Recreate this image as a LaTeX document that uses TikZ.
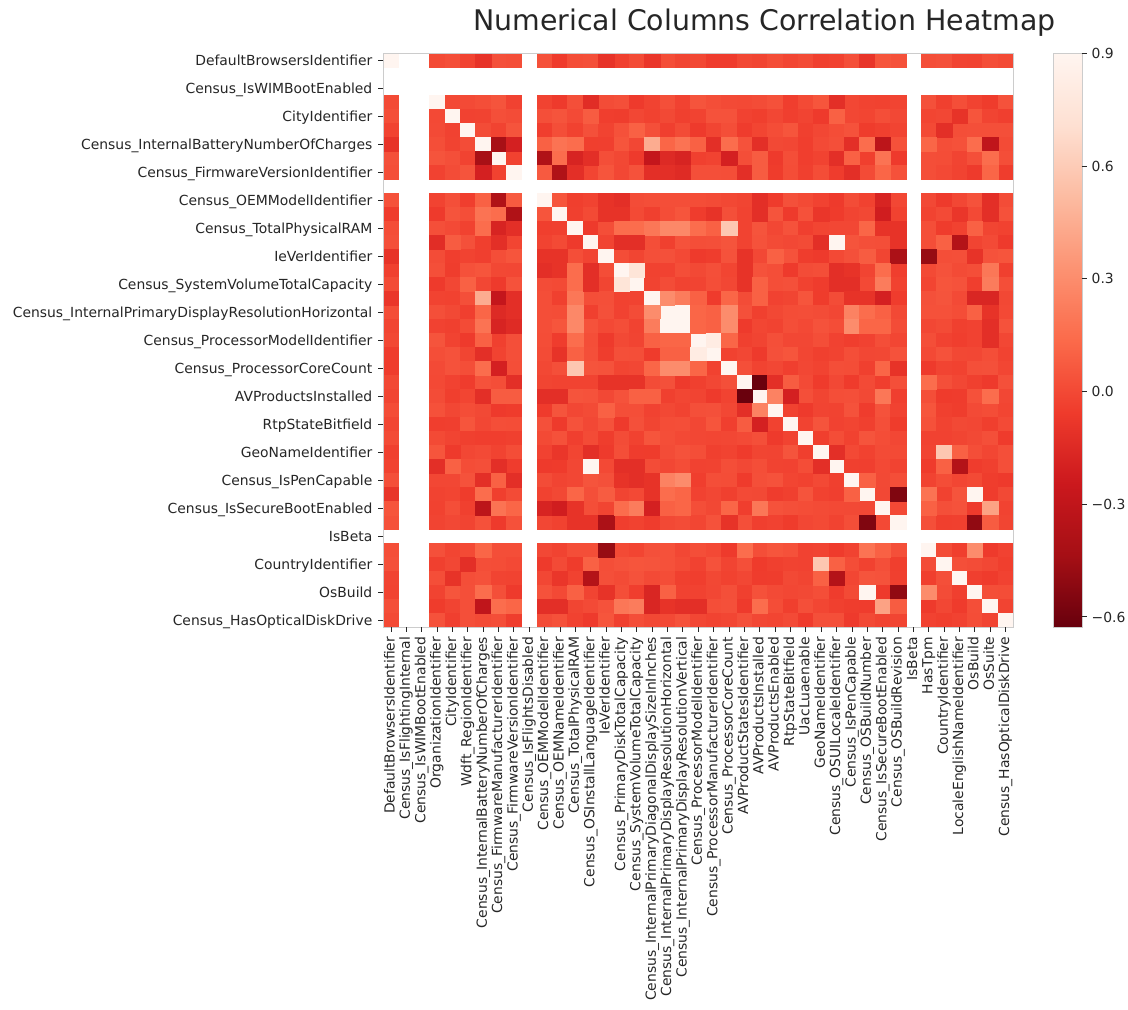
\documentclass[tikz,border=0pt]{standalone}
\usepackage{fontspec}
\setmainfont{DejaVu Sans}
\usepackage{tikz}
\definecolor{CorrRed0}{HTML}{FFF5F0}
\definecolor{CorrRed1}{HTML}{FEE0D2}
\definecolor{CorrRed2}{HTML}{FCBBA1}
\definecolor{CorrRed3}{HTML}{FC9272}
\definecolor{CorrRed4}{HTML}{FB6A4A}
\definecolor{CorrRed5}{HTML}{EF3B2C}
\definecolor{CorrRed6}{HTML}{CB181D}
\definecolor{CorrRed7}{HTML}{A50F15}
\definecolor{CorrRed8}{HTML}{67000D}
\definecolor{CorrText}{HTML}{262626}
\definecolor{CorrFrame}{HTML}{CCCCCC}
\newcommand{\corrfont}{\fontsize{13.9pt}{16pt}\selectfont}
\newcommand{\corrvalid}{1,4,5,6,7,8,9,11,12,13,14,15,16,17,18,19,20,21,22,23,24,25,26,27,28,29,30,31,32,33,34,36,37,38,39,40,41}
\newcommand{\corrfill}[1]{%
  \pgfmathsetmacro{\corrs}{max(0,min(7.999,8*(0.9-(#1))/1.528))}%
  \pgfmathtruncatemacro{\corrk}{\corrs}%
  \pgfmathtruncatemacro{\corrkk}{\corrk+1}%
  \pgfmathsetmacro{\corrp}{100*(1+\corrk-\corrs)}%
  \edef\corrtmp{\noexpand\colorlet{cellcol}{CorrRed\corrk!\corrp!CorrRed\corrkk}}%
  \corrtmp}
\pgfdeclareverticalshading{corrbar}{100bp}{color(0bp)=(CorrRed8); color(25bp)=(CorrRed8); color(31.25bp)=(CorrRed7); color(37.5bp)=(CorrRed6); color(43.75bp)=(CorrRed5); color(50bp)=(CorrRed4); color(56.25bp)=(CorrRed3); color(62.5bp)=(CorrRed2); color(68.75bp)=(CorrRed1); color(75bp)=(CorrRed0); color(100bp)=(CorrRed0)}

\begin{document}
\begin{tikzpicture}[x=1pt,y=-1pt,
  hcell/.style={fill=cellcol,draw=cellcol,line width=0.4pt},
  axtick/.style={draw=CorrText,line width=0.9pt},
  ylab/.style={anchor=base east,inner sep=0pt,text=CorrText,font=\corrfont},
  xlab/.style={anchor=base east,rotate=90,inner sep=0pt,text=CorrText,font=\corrfont},
  cbarlab/.style={anchor=base west,inner sep=0pt,text=CorrText,font=\corrfont},
  heading/.style={anchor=base,inner sep=0pt,text=CorrText,font=\fontsize{28.4pt}{34pt}\selectfont},
]
\fill[white] (0,0) rectangle (1128,1010);
\useasboundingbox (0,0) rectangle (1128,1010);
\node[heading] (title) at (764.5,30) {Numerical Columns Correlation Heatmap};
\begin{scope}[shift={(383.3,53.5)},x=15.366pt,y=-13.99pt]
\foreach \row in \corrvalid {
  \foreach \col in \corrvalid {
    \ifnum\row=\col\relax
      \colorlet{cellcol}{CorrRed0}%
    \else
      \edef\corrh{\the\numexpr 37*\row*\col+91*(\row+\col)\relax}%
      \edef\corrh{\the\numexpr \corrh-101*((\corrh-50)/101)\relax}%
      \edef\corrh{\the\numexpr \corrh*\corrh+17*\corrh\relax}%
      \edef\corrh{\the\numexpr \corrh-101*((\corrh-50)/101)\relax}%
      \pgfmathsetmacro{\corrn}{-0.06+0.0011*\corrh}%
      \corrfill{\corrn}%
    \fi
    \fill[hcell] ({\col-1},{\row-1}) rectangle ({\col},{\row});
  }
}
\foreach \ra/\cb/\val in {1/7/-0.1,1/15/-0.1,1/18/-0.08,1/32/-0.09,1/33/0.05,
  4/14/-0.13,4/29/0.05,4/30/-0.12,5/14/0.08,5/29/-0.06,5/30/0.1,5/38/-0.1,6/17/0.1,6/37/-0.12,
  7/8/-0.42,7/9/-0.2,7/11/0.1,7/12/0.18,7/13/0.15,7/18/0.45,7/19/0.12,7/20/0.18,7/21/0.1,7/22/-0.12,
  7/23/0.15,7/25/-0.12,7/31/-0.12,7/32/0.15,7/33/-0.32,7/36/0.12,7/39/0.15,7/40/-0.3,
  8/11/-0.38,8/12/0.15,8/13/-0.18,8/14/-0.12,8/18/-0.28,8/19/-0.15,8/20/-0.18,8/23/-0.2,8/25/0.08,
  8/30/-0.12,8/31/0.1,8/33/0.18,8/40/0.15,
  9/11/0.07,9/12/-0.38,9/13/-0.12,9/18/-0.12,9/19/-0.12,9/20/-0.14,9/24/-0.12,9/25/0.08,9/31/-0.12,
  9/33/0.12,9/40/0.12,
  11/15/-0.1,11/16/-0.12,11/25/-0.12,11/33/-0.18,11/40/-0.12,
  12/15/-0.1,12/16/-0.1,12/22/-0.1,12/25/-0.12,12/29/-0.08,12/33/-0.22,12/38/-0.08,12/40/-0.12,
  13/16/0.15,13/17/0.15,13/18/0.2,13/19/0.28,13/20/0.28,13/21/0.15,13/22/0.1,13/23/0.58,13/32/0.12,
  13/33/-0.1,13/34/-0.1,13/39/0.1,
  14/16/-0.12,14/17/-0.12,14/29/-0.12,14/30/0.95,14/34/-0.1,14/37/0.1,14/38/-0.36,
  15/24/-0.1,15/26/0.1,15/32/0.08,15/34/-0.4,15/36/-0.48,15/39/-0.1,
  16/17/0.75,16/24/-0.1,16/30/-0.12,16/31/-0.1,16/33/0.15,16/40/0.2,
  17/24/-0.1,17/25/0.1,17/30/-0.12,17/31/-0.12,17/33/0.22,17/40/0.22,
  18/19/0.3,18/20/0.22,18/21/0.1,18/23/0.12,18/25/0.1,18/31/-0.1,18/32/-0.1,18/33/-0.2,18/39/-0.17,18/40/-0.17,
  19/20/0.97,19/21/0.12,19/22/0.1,19/23/0.3,19/31/0.25,19/32/0.15,19/33/0.1,19/39/0.1,19/40/-0.1,
  20/21/0.12,20/22/0.1,20/23/0.3,20/31/0.3,20/32/0.12,20/33/0.12,20/40/-0.12,
  21/22/0.82,21/23/0.12,21/40/-0.12,23/33/0.12,23/34/-0.1,
  24/25/-0.62,24/26/-0.12,24/27/0.08,24/36/0.15,25/26/0.25,25/27/-0.2,25/33/0.2,25/40/0.15,
  29/30/-0.12,29/37/0.58,29/38/0.1,30/37/0.1,30/38/-0.36,31/32/0.1,
  32/34/-0.55,32/36/0.18,32/39/0.95,33/36/0.1,33/40/0.4,34/39/-0.5,34/40/0.08,36/39/0.3} {
  \corrfill{\val}
  \fill[hcell] ({\cb-1},{\ra-1}) rectangle ++(1,1);
  \fill[hcell] ({\ra-1},{\cb-1}) rectangle ++(1,1);
}
\draw[CorrFrame,line width=0.8pt] (0,0) rectangle (41,41);
\foreach \row/\lab in {1/DefaultBrowsersIdentifier,3/Census\_IsWIMBootEnabled,5/CityIdentifier,
  7/Census\_InternalBatteryNumberOfCharges,9/Census\_FirmwareVersionIdentifier,11/Census\_OEMModelIdentifier,
  13/Census\_TotalPhysicalRAM,15/IeVerIdentifier,17/Census\_SystemVolumeTotalCapacity,
  19/Census\_InternalPrimaryDisplayResolutionHorizontal,21/Census\_ProcessorModelIdentifier,
  23/Census\_ProcessorCoreCount,25/AVProductsInstalled,27/RtpStateBitfield,29/GeoNameIdentifier,
  31/Census\_IsPenCapable,33/Census\_IsSecureBootEnabled,35/IsBeta,37/CountryIdentifier,39/OsBuild,
  41/Census\_HasOpticalDiskDrive} {
  \draw[axtick] (0,{\row-0.5}) -- ++(-5pt,0pt);
  \node[ylab] (rowname\row) at (-0.703,{\row-0.121}) {\lab};
}
\foreach \col/\lab in {1/DefaultBrowsersIdentifier,2/Census\_IsFlightingInternal,3/Census\_IsWIMBootEnabled,
  4/OrganizationIdentifier,5/CityIdentifier,6/Wdft\_RegionIdentifier,7/Census\_InternalBatteryNumberOfCharges,
  8/Census\_FirmwareManufacturerIdentifier,9/Census\_FirmwareVersionIdentifier,10/Census\_IsFlightsDisabled,
  11/Census\_OEMModelIdentifier,12/Census\_OEMNameIdentifier,13/Census\_TotalPhysicalRAM,
  14/Census\_OSInstallLanguageIdentifier,15/IeVerIdentifier,16/Census\_PrimaryDiskTotalCapacity,
  17/Census\_SystemVolumeTotalCapacity,18/Census\_InternalPrimaryDiagonalDisplaySizeInInches,
  19/Census\_InternalPrimaryDisplayResolutionHorizontal,20/Census\_InternalPrimaryDisplayResolutionVertical,
  21/Census\_ProcessorModelIdentifier,22/Census\_ProcessorManufacturerIdentifier,23/Census\_ProcessorCoreCount,
  24/AVProductStatesIdentifier,25/AVProductsInstalled,26/AVProductsEnabled,27/RtpStateBitfield,
  28/UacLuaenable,29/GeoNameIdentifier,30/Census\_OSUILocaleIdentifier,31/Census\_IsPenCapable,
  32/Census\_OSBuildNumber,33/Census\_IsSecureBootEnabled,34/Census\_OSBuildRevision,35/IsBeta,36/HasTpm,
  37/CountryIdentifier,38/LocaleEnglishNameIdentifier,39/OsBuild,40/OsSuite,41/Census\_HasOpticalDiskDrive} {
  \draw[axtick] ({\col-0.5},41) -- ++(0pt,-5pt);
  \node[xlab] (colname\col) at ({\col-0.266},41.69) {\lab};
}
\end{scope}
\node[draw=CorrFrame,line width=0.8pt,shade,shading=corrbar,minimum width=28.4pt,minimum height=574pt,
  inner sep=0pt,anchor=north west] (cbar) at (1053.3,53.3) {};
\foreach \val/\txt [count=\k] in {0.9/0.9,0.6/0.6,0.3/0.3,0.0/0.0,-0.3/−0.3,-0.6/−0.6} {
  \draw[axtick] (1081.7,{53.3+(0.9-(\val))*375.65}) -- ++(5pt,0pt);
  \node[cbarlab] (cbtick\k) at (1091.5,{58.6+(0.9-(\val))*375.65}) {\txt};
}
\end{tikzpicture}
\end{document}
